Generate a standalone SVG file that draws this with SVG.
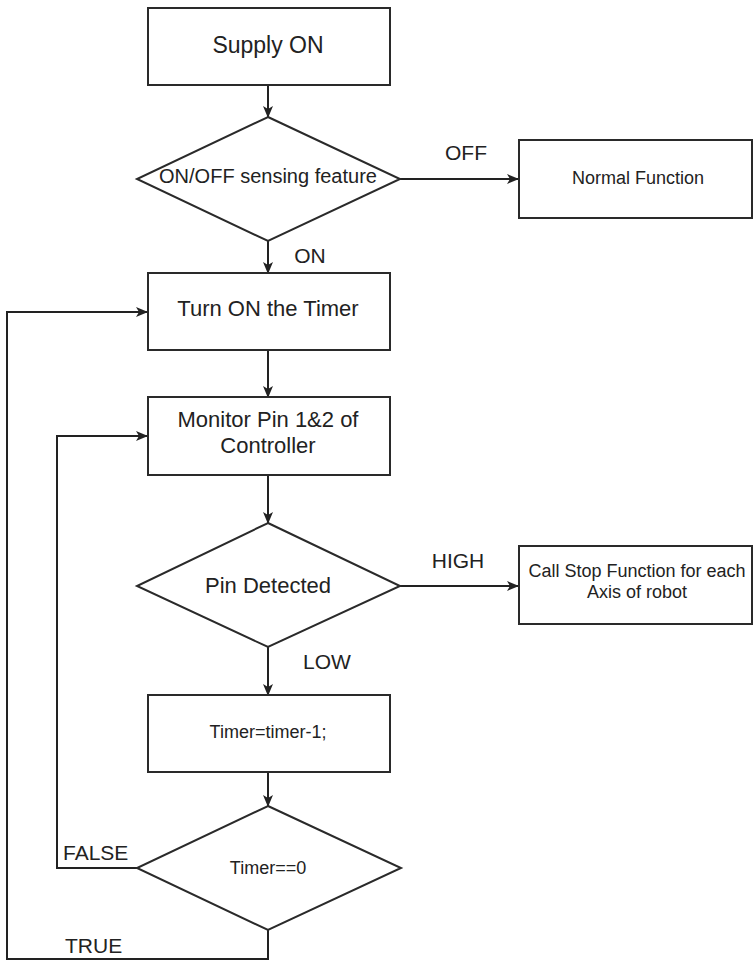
<svg xmlns="http://www.w3.org/2000/svg" width="754" height="962" viewBox="0 0 754 962">
  <defs>
    <marker id="arrow" viewBox="0 0 12 10" refX="11" refY="5" markerWidth="12" markerHeight="10" markerUnits="userSpaceOnUse" orient="auto">
      <path d="M0,0 L12,5 L0,10 L3,5 z" fill="#222"/>
    </marker>
    <style>
      .shape { fill: #fff; stroke: #2a2a2a; stroke-width: 2; }
      .edge { fill: none; stroke: #222; stroke-width: 2; }
      text { font-family: "Liberation Sans", Arial, sans-serif; fill: #222; text-anchor: middle; }
      .lbl { text-anchor: start; }
    </style>
  </defs>

  <rect width="754" height="962" fill="#fff"/>

  <g id="connectors">
    <path class="edge" d="M268,85 L268,117" marker-end="url(#arrow)"/>
    <path class="edge" d="M400,179 L518,179" marker-end="url(#arrow)"/>
    <path class="edge" d="M268,241 L268,273" marker-end="url(#arrow)"/>
    <path class="edge" d="M268,350 L268,397" marker-end="url(#arrow)"/>
    <path class="edge" d="M268,475 L268,523" marker-end="url(#arrow)"/>
    <path class="edge" d="M400,586 L518,586" marker-end="url(#arrow)"/>
    <path class="edge" d="M268,647 L268,695" marker-end="url(#arrow)"/>
    <path class="edge" d="M268,772 L268,806" marker-end="url(#arrow)"/>
    <path class="edge" d="M137,868 L57,868 L57,436 L147,436" marker-end="url(#arrow)"/>
    <path class="edge" d="M268,930 L268,959 L7,959 L7,312 L147,312" marker-end="url(#arrow)"/>
    <text x="466" y="160" font-size="21">OFF</text>
    <text x="310" y="263" font-size="21">ON</text>
    <text x="458" y="568" font-size="21">HIGH</text>
    <text x="327" y="669" font-size="21">LOW</text>
    <text class="lbl" x="63" y="860" font-size="21">FALSE</text>
    <text class="lbl" x="65" y="953" font-size="21">TRUE</text>
  </g>

  <g id="supply-on">
    <rect class="shape" x="148" y="8" width="242" height="77"/>
    <text x="268" y="53" font-size="23">Supply ON</text>
  </g>

  <g id="sensing-decision">
    <polygon class="shape" points="268,117 400,179 268,241 137,179"/>
    <text x="268" y="183" font-size="20">ON/OFF sensing feature</text>
  </g>

  <g id="normal-function">
    <rect class="shape" x="519" y="140" width="233" height="78"/>
    <text x="638" y="184" font-size="18">Normal Function</text>
  </g>

  <g id="turn-on-timer">
    <rect class="shape" x="148" y="273" width="242" height="77"/>
    <text x="268" y="316" font-size="22">Turn ON the Timer</text>
  </g>

  <g id="monitor-pins">
    <rect class="shape" x="148" y="397" width="242" height="78"/>
    <text x="268" y="427" font-size="22">Monitor Pin 1&amp;2 of</text>
    <text x="268" y="453" font-size="22">Controller</text>
  </g>

  <g id="pin-detected">
    <polygon class="shape" points="268,523 400,586 268,647 137,586"/>
    <text x="268" y="593" font-size="22">Pin Detected</text>
  </g>

  <g id="stop-function">
    <rect class="shape" x="519" y="546" width="233" height="78"/>
    <text x="637" y="577" font-size="18">Call Stop Function for each</text>
    <text x="637" y="598" font-size="18">Axis of robot</text>
  </g>

  <g id="timer-decrement">
    <rect class="shape" x="148" y="695" width="242" height="77"/>
    <text x="268" y="738" font-size="18">Timer=timer-1;</text>
  </g>

  <g id="timer-zero">
    <polygon class="shape" points="268,806 401,868 268,930 137,868"/>
    <text x="268" y="874" font-size="18">Timer==0</text>
  </g>
</svg>
